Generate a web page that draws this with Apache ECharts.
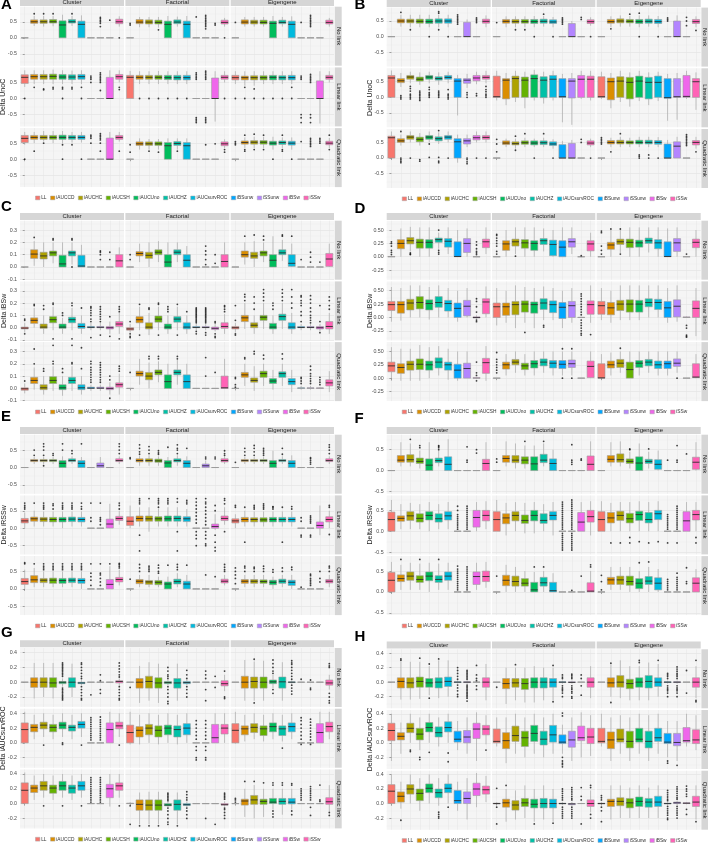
<!DOCTYPE html>
<html><head><meta charset="utf-8">
<script src="https://cdn.jsdelivr.net/npm/echarts@6/dist/echarts.min.js"></script>
<style>html,body{margin:0;padding:0;background:#fff}#c{width:708px;height:844px}</style>
</head><body><div id="c"></div>
<script>
// ---------- categories & labels ----------
const methods = ['LL','iAUCCD','iAUCHC','iAUCSH','iAUCUno','iAUCHZ','iAUCsurvROC','iBSunw','iSSunw','iBSw','iSSw'];
const methodColors = ['#F8766D','#DB8E00','#AEA200','#64B200','#00BD5C','#00C1A7','#00BADE','#00A6FF','#B385FF','#EF67EB','#FF63B6'];
const designs = ['Cluster','Factorial','Eigengene'];
const links = ['No link','Linear link','Quadratic link'];
const panelNames = ['A','B','C','D','E','F','G','H'];
const yTitles = {A:'Delta UnoC',B:'Delta UnoC',C:'Delta iBSw',D:'Delta iBSw',E:'Delta iRSSw',F:'Delta iRSSw',G:'Delta iAUCsurvROC',H:'Delta iAUCsurvROC'};
const yLimits = {A:[-0.87,0.97],B:[-0.96,0.93],C:[-0.103,0.376],D:[-0.43,0.675],E:[-0.75,0.94],F:[-0.555,0.86],G:[-0.335,0.462],H:[-0.36,0.452]};
const yBreaks = {A:[-0.5,0,0.5],B:[-0.5,0,0.5],C:[-0.1,0,0.1,0.2,0.3],D:[-0.25,0,0.25,0.5],E:[-0.5,0,0.5],F:[-0.5,0,0.5],G:[-0.2,0,0.2,0.4],H:[-0.2,0,0.2,0.4]};
const yDecimals = {A:1,B:1,C:1,D:2,E:1,F:1,G:1,H:1};

// ---------- data: 9 facets per panel (No link: Cluster, Factorial, Eigengene; Linear link: ...; Quadratic link: ...)
// each box: [lower whisker, Q1, median, Q3, upper whisker, ...outliers]
const A_boxes = [
 [[0,0,0,0,0],[0.37,0.45,0.5,0.56,0.68,0.75],[0.35,0.45,0.5,0.56,0.68,0.75],[0.36,0.46,0.5,0.57,0.68,0.75],[0,0,0.4,0.53,0.72],[0.37,0.46,0.5,0.57,0.68,0.75],[0,0,0.42,0.52,0.7],[0,0,0,0,0],[0,0,0,0,0,0.35,0.45,0.5,0.55,0.6,0.64],[0,0,0,0,0,0.55],[0.35,0.44,0.5,0.58,0.67,0]],
 [[0,0,0,0,0,0.4,0.45],[0.33,0.44,0.49,0.57,0.65],[0.33,0.43,0.49,0.56,0.65],[0.32,0.43,0.48,0.55,0.65,0.25],[0,0,0.42,0.52,0.68],[0.35,0.44,0.49,0.56,0.66],[0,0,0.42,0.52,0.68],[0,0,0,0,0,0.65],[0,0,0,0,0,0.28,0.35,0.4,0.45,0.5,0.55,0.6,0.65,0.7],[0,0,0,0,0,0.4,0.45],[0.35,0.43,0.48,0.55,0.62,0]],
 [[0,0,0,0,0,0.48],[0.35,0.43,0.49,0.56,0.65],[0.35,0.43,0.49,0.55,0.65],[0.35,0.43,0.48,0.55,0.65],[0,0,0.45,0.52,0.68],[0.35,0.44,0.48,0.55,0.65],[0,0,0.42,0.52,0.67],[0,0,0,0,0,0.48],[0,0,0,0,0,0.35,0.4,0.45,0.5,0.55,0.6,0.65,0.7],[0,0,0,0,0],[0.35,0.43,0.48,0.55,0.62]],
 [[0.36,0.47,0.66,0.74,0.88,0],[0.45,0.6,0.68,0.75,0.88,0.35],[0.45,0.6,0.68,0.75,0.88,0.3,0.27],[0.45,0.6,0.69,0.76,0.9,0.3,0.35],[0.45,0.6,0.67,0.75,0.88,0.3,0.35,0],[0.45,0.59,0.67,0.74,0.87,0.3,0.35],[0.45,0.6,0.68,0.75,0.88,0.35,0],[0,0,0,0,0,0.5,0.6,0.65,0.7],[0,0,0,0,0,0.25,0.5,0.55,0.6,0.65,0.7,0.75,0.8],[0,0,0,0.66,0.88],[0.5,0.6,0.68,0.75,0.88,0.35,0.28]],
 [[0,0,0.66,0.72,0.86],[0.45,0.6,0.66,0.72,0.85,0],[0.45,0.6,0.66,0.72,0.85,0],[0.45,0.6,0.66,0.72,0.86,0],[0.45,0.59,0.65,0.72,0.85,0],[0.45,0.58,0.65,0.72,0.85,0],[0.45,0.58,0.65,0.72,0.85,0],[0,0,0,0,0,0.6,0.65,0.7,0.75,0.8,-0.6,-0.65,-0.7,-0.75],[0,0,0,0,0,0.6,0.65,0.7,0.75,0.8,0.85,-0.6,-0.65,-0.7,-0.75],[-0.72,0,0,0.64,0.85],[0.5,0.6,0.66,0.72,0.85,0]],
 [[0.45,0.58,0.65,0.72,0.85,0],[0.4,0.58,0.65,0.7,0.85,0.35,0],[0.4,0.58,0.65,0.71,0.85,0.3,0],[0.45,0.58,0.65,0.71,0.85,0],[0.45,0.58,0.66,0.72,0.85,0],[0.45,0.58,0.65,0.71,0.85,0],[0.45,0.58,0.65,0.72,0.85,0.35,0],[0,0,0,0,0,0.6,0.65,0.7,-0.5,-0.6,-0.75],[0,0,0,0,0,0.5,0.55,0.6,0.65,0.7,0.75,-0.5,-0.6,-0.75],[-0.78,0,0,0.55,0.85],[0.5,0.6,0.66,0.72,0.85]],
 [[0.45,0.52,0.65,0.74,0.85,0],[0.5,0.62,0.68,0.74,0.85,0.25],[0.55,0.62,0.68,0.74,0.88,0.5],[0.5,0.62,0.68,0.74,0.88],[0.5,0.62,0.68,0.75,0.88,0.45,0],[0.52,0.62,0.68,0.74,0.85,0.45],[0.52,0.62,0.68,0.74,0.85,0],[0,0,0,0,0,0.5,0.65,0.7,0.75],[0,0,0,0,0,0.25,0.5,0.6,0.65,0.7,0.75,0.8],[0,0,0,0.66,0.85],[0.55,0.62,0.68,0.74,0.85,0.25]],
 [[0,0,0,0,0,0.45,0.22],[0.3,0.43,0.48,0.54,0.65],[0.3,0.43,0.48,0.54,0.63,0.25],[0.3,0.43,0.48,0.54,0.63,0.22],[0,0,0.42,0.52,0.65],[0.3,0.43,0.49,0.55,0.65,0.25],[0,0,0.42,0.52,0.65],[0,0,0,0,0],[0,0,0,0,0,0.45],[0,0,0,0,0,0.48],[0.35,0.42,0.48,0.54,0.62,0.22,0.3]],
 [[0,0,0,0,0,0.45,0.5,0.55],[0.35,0.47,0.52,0.57,0.68,0.75,0.3,0.25],[0.35,0.47,0.53,0.58,0.7,0.78,0.3],[0.35,0.47,0.53,0.58,0.7,0.75,0.3],[0.3,0.44,0.5,0.56,0.7,0],[0.35,0.46,0.52,0.57,0.68,0.75,0.3,0.25],[0.3,0.44,0.5,0.56,0.68,0],[0,0,0,0,0,0.55],[0,0,0,0,0,0.4,0.45,0.5,0.55,0.6,0.65],[0,0,0,0,0,0.5,0.55,0.6,0.65],[0.35,0.45,0.5,0.56,0.66,0.75,0.3]]
];
const B_boxes = [
 [[0,0,0,0,0],[0.32,0.44,0.5,0.56,0.7,0.78],[0.3,0.44,0.5,0.56,0.7,0.22],[0.3,0.43,0.49,0.56,0.7],[0.3,0.42,0.48,0.56,0.7,0],[0.3,0.43,0.5,0.57,0.7,0.75,0.8,0.22],[0.3,0.43,0.5,0.57,0.7,0],[0,0,0,0,0,0.4,0.45,0.5,0.55,0.6,0.65,0.7],[0,0,0,0.46,0.55],[0,0,0,0,0,0.45,0.5,0.55,0.6],[0.3,0.43,0.49,0.56,0.68]],
 [[0,0,0,0,0,0.45],[0.3,0.43,0.49,0.55,0.65],[0.3,0.43,0.48,0.55,0.65,0.22],[0.3,0.43,0.48,0.55,0.65,0.22],[0.3,0.42,0.48,0.55,0.66,0],[0.32,0.43,0.49,0.56,0.66,0.72],[0.3,0.42,0.47,0.54,0.63,0],[0,0,0,0,0,0.4,0.45,0.5,0.55,0.6],[0,0,0,0.42,0.5],[0,0,0,0,0,0.55,0.62],[0.35,0.42,0.48,0.54,0.62,0]],
 [[0,0,0,0,0],[0.3,0.43,0.48,0.55,0.65,0.25],[0.32,0.44,0.5,0.57,0.68],[0.32,0.44,0.49,0.55,0.66,0.72],[0.3,0.42,0.48,0.55,0.68,0.75,0],[0.32,0.43,0.49,0.56,0.68],[0.3,0.42,0.48,0.55,0.66,0],[0,0,0,0,0,0.5,0.55,0.6],[0,0,0,0.5,0.68],[0,0,0,0,0,0.35,0.5,0.62],[0.3,0.42,0.48,0.55,0.65,0.2]],
 [[0,0,0.62,0.7,0.86],[0.33,0.47,0.53,0.6,0.78,0.05,0,-0.05],[0.45,0.58,0.65,0.7,0.82,0.35,0.28,0.2,0.1,0.05,0,-0.05],[0.4,0.52,0.58,0.65,0.8,0.2,0.15,0.1,0.05,0,-0.05,-0.1],[0.45,0.58,0.65,0.7,0.82,0.32,0.25,0.15,0.1,0.05,0],[0.4,0.55,0.6,0.66,0.8,0.2,0.15,0.1,0.05,0],[0.45,0.58,0.64,0.7,0.82,0.25,0.1,0.05,0,-0.05],[-0.58,0,0.52,0.6,0.72],[0.3,0.45,0.55,0.6,0.75,0.15,0.08,0],[0.42,0.53,0.62,0.7,0.82,0.12,0.05],[0.45,0.58,0.64,0.7,0.85,0.35,0.25,0.18,0.1,0.05,0]],
 [[-0.1,0,0.02,0.68,0.85],[-0.25,-0.05,0.55,0.6,0.78],[-0.15,0,0.6,0.68,0.85],[-0.35,0,0.55,0.65,0.82],[-0.1,0,0.6,0.72,0.88],[-0.2,-0.01,0.55,0.66,0.82],[-0.1,0,0.58,0.7,0.85],[-0.8,0,0.02,0.6,0.75],[-0.88,-0.02,0.52,0.6,0.78],[-0.05,0,0.58,0.7,0.85],[-0.1,0,0.58,0.68,0.85]],
 [[-0.05,0,0.02,0.66,0.82],[-0.35,-0.08,0.5,0.62,0.78],[-0.15,0,0.52,0.66,0.85],[-0.3,-0.05,0.48,0.64,0.8],[-0.12,0,0.52,0.68,0.85],[-0.25,-0.05,0.48,0.64,0.8],[-0.12,0,0.48,0.68,0.82],[-0.75,-0.03,-0.01,0.6,0.75],[-0.72,0,0.02,0.6,0.78],[-0.05,0,0.03,0.7,0.85],[-0.4,0,0.5,0.6,0.8]],
 [[0,0,0.65,0.7,0.85],[0.4,0.5,0.55,0.62,0.75,0.85,0,-0.05,-0.1,-0.15],[0.5,0.6,0.67,0.72,0.85,0],[0.4,0.52,0.6,0.67,0.8,-0.05,-0.1],[0.5,0.6,0.67,0.72,0.85,0.45,0.02],[0.45,0.55,0.62,0.68,0.82,0.88,0.02,-0.1,-0.15],[0.5,0.6,0.67,0.72,0.85,0],[-0.15,0,0.52,0.62,0.75],[0.35,0.45,0.55,0.62,0.75,0,-0.05,-0.12,-0.18],[0.5,0.58,0.65,0.72,0.85,0],[0.5,0.6,0.66,0.72,0.85,0]],
 [[0,0,0,0,0,0.6,0.45,0.2],[0.35,0.43,0.48,0.55,0.62],[0.3,0.42,0.46,0.52,0.62,0.7,0.25],[0.35,0.44,0.49,0.55,0.65,0.78],[0.35,0.42,0.48,0.55,0.62,0],[0.35,0.43,0.49,0.55,0.65,0.78],[0.3,0.4,0.45,0.52,0.6,0],[0,0,0,0.43,0.55],[0,0,0,0.47,0.58],[0,0,0,0,0,0.6,0.5],[0.35,0.42,0.48,0.55,0.62,0]],
 [[0,0,0,0,0,0.45,0.5,0.55,0.6,0.65],[0.35,0.45,0.5,0.56,0.65,0.2],[0.35,0.45,0.5,0.57,0.68,0.78],[0.35,0.45,0.5,0.55,0.65],[0.35,0.45,0.5,0.57,0.68,0.1,0.05,0],[0.35,0.45,0.5,0.57,0.68,0.1,0],[0.35,0.44,0.5,0.56,0.67,0],[0,0,0,0.45,0.58],[0,0,0.38,0.52,0.68],[0,0,0,0,0,0.4,0.45,0.5,0.55,0.6,0.65,0.7,0.75],[0.3,0.42,0.5,0.56,0.68,0.2]]
];
const C_boxes = [
 [[0,0,0,0,0],[0.01,0.07,0.105,0.14,0.21,0.24],[0,0.065,0.09,0.12,0.2],[0.03,0.09,0.115,0.13,0.2,0.23,0.22],[0,0,0.025,0.095,0.2],[0.02,0.09,0.115,0.13,0.2,0.23,0.22,0],[0,0,0.008,0.095,0.18],[0,0,0,0,0],[0,0,0,0,0,0.06,0.1,0.12,0.13],[0,0,0,0,0,0.06,0.12],[0,0,0.05,0.1,0.16]],
 [[0,0,0,0,0,0.1,0.06],[0.04,0.09,0.11,0.125,0.19],[0,0.07,0.095,0.12,0.2],[0.04,0.1,0.12,0.14,0.21],[0,0,0.04,0.1,0.2],[0.04,0.1,0.12,0.14,0.2],[0,0,0.055,0.1,0.17],[0,0,0,0,0],[0,0,0,0,0,0.02,0.06,0.1,0.13,0.17],[0,0,0,0,0,0.03,0.1],[0,0,0.045,0.1,0.2]],
 [[0,0,0,0,0],[0.02,0.08,0.1,0.13,0.2,0.25],[0,0.07,0.09,0.12,0.21,0.26],[0.04,0.09,0.115,0.13,0.2,0.25,0.22],[0,0,0.055,0.1,0.25],[0.05,0.1,0.115,0.14,0.22,0.26,0.25],[0,0.005,0.03,0.1,0.19,0.25],[0,0,0,0,0,0.06],[0,0,0,0,0,0.04,0.08,0.12],[0,0,0,0,0,0.04],[0,0.005,0.065,0.11,0.19]],
 [[-0.04,-0.01,-0.003,0.005,0.04,0.06,0.07,-0.05],[0,0.035,0.06,0.08,0.16,0.18,0.19],[-0.05,-0.005,0.005,0.03,0.1,0.15,0.18],[-0.02,0.04,0.065,0.09,0.17,0.19,0.2,-0.09],[-0.05,-0.005,0.005,0.03,0.08,0.1,0.12],[-0.02,0.04,0.065,0.085,0.16,0.18,0.2,-0.09],[-0.05,-0.005,0.01,0.035,0.1,0.16],[-0.02,0,0.003,0.01,0.04,0.05,0.07,0.1,0.12,0.14,0.16,0.17,-0.08],[-0.02,0,0.003,0.01,0.04,0.05,0.07,0.09,0.11,0.13,0.15,0.17,-0.06],[-0.05,-0.01,0,0.01,0.05,0.09,-0.07],[-0.05,0.01,0.03,0.05,0.12,0.13,0.15,0.17,-0.09]],
 [[-0.04,-0.02,-0.01,0,0.03,-0.05,-0.07,-0.08,0.05],[-0.02,0.04,0.065,0.09,0.17,-0.06,0.19],[-0.06,-0.01,0.005,0.04,0.12,0.15,0.16],[-0.02,0.045,0.07,0.095,0.17,-0.06,0.19,0.2],[-0.05,-0.01,0.005,0.03,0.1,0.13,0.15,0.17],[-0.02,0.045,0.07,0.09,0.17,-0.06,0.19],[-0.05,-0.01,0.005,0.04,0.1,0.13],[-0.02,0,0.002,0.01,0.03,0.04,0.05,0.06,0.07,0.08,0.09,0.1,0.11,0.12,0.13,0.14,0.15,0.16,-0.03,-0.05],[-0.02,0,0.002,0.01,0.03,0.04,0.05,0.06,0.07,0.08,0.09,0.1,0.11,0.12,0.13,0.14,0.15,0.16,-0.04,-0.06],[-0.03,-0.015,-0.005,0.005,0.03,0.04,0.05,-0.05,-0.07,-0.08],[-0.05,-0.005,0.01,0.04,0.11,0.13,0.15,0.17,0.18]],
 [[-0.04,-0.01,0,0.01,0.04,0.06,0.18,-0.05,-0.06],[-0.01,0.05,0.08,0.1,0.2,0.22,0.25,0.27],[-0.05,0,0.02,0.04,0.1,0.15,0.2,0.25],[-0.01,0.06,0.085,0.1,0.2,0.22,0.25,0.28,0.31],[-0.05,-0.01,0.005,0.035,0.1,0.15,0.18,0.2],[-0.01,0.06,0.09,0.11,0.2,0.22,0.25,0.28,0.31],[-0.05,-0.01,0.005,0.04,0.12,0.16,0.2,0.25,0.31],[-0.02,0,0.002,0.01,0.03,0.05,0.1,0.13,0.18,0.2,0.22,0.25,0.26],[-0.02,0,0.002,0.01,0.03,0.04,0.06,0.08,0.1,0.13,0.16,0.2,0.23,0.26],[-0.03,-0.01,0,0.01,0.03,0.05,0.18,-0.04],[-0.05,-0.01,0.01,0.05,0.12,0.15,0.18,0.22,0.25]],
 [[-0.04,-0.015,-0.003,0.005,0.04,0.06],[-0.01,0.04,0.065,0.09,0.17,0.2,0.32],[-0.05,-0.01,0.005,0.03,0.1,0.14,0.16],[-0.02,0.04,0.065,0.095,0.18,0.2,0.22,0.35],[-0.06,-0.01,0.005,0.03,0.1,0.13,0.16],[-0.02,0.04,0.065,0.09,0.18,0.2,0.21,0.35],[-0.05,-0.01,0.005,0.03,0.1,0.16,0.33],[-0.02,0,0.002,0.01,0.03,0.05,0.07,0.09,0.11,0.13,0.15,0.17,0.2,0.22],[-0.02,0,0.002,0.01,0.03,0.05,0.07,0.09,0.11,0.13,0.15,0.17,0.19,0.21],[-0.05,-0.01,0,0.01,0.05,0.07,0.1,-0.08],[-0.05,0.01,0.03,0.045,0.12,0.14,0.16,0.18]],
 [[0,0,0,0,0,0.13],[0.03,0.1,0.12,0.14,0.24],[0,0.07,0.1,0.13,0.21,0.24,0.26],[0.05,0.11,0.13,0.15,0.22,0.24,0.26],[0,0,0.055,0.11,0.2],[0.03,0.11,0.13,0.15,0.23,0.26,0.24],[0,0,0.055,0.11,0.2],[0,0,0,0,0],[0,0,0,0,0,0.1,0.25],[0,0,0,0,0,0.13],[0,0,0.005,0.1,0.24]],
 [[0,0,0,0,0,0.01,0.03,0.08,0.09],[0.02,0.09,0.11,0.13,0.2,0.24,0.25],[-0.02,0.05,0.065,0.085,0.18,0.28,0.3],[0.02,0.09,0.12,0.14,0.2,0.24,0.27],[-0.01,0.04,0.06,0.08,0.15],[0.02,0.09,0.12,0.135,0.2,0.24,0.28],[-0.03,0.03,0.055,0.08,0.15],[-0.01,0,0.002,0.005,0.02,0.04,0.06,0.08,0.09],[-0.01,0,0.002,0.005,0.02,0.04,0.06,0.08,0.1,0.12,0.15,0.18],[0,0,0.002,0.004,0.01,0.03,0.05,0.07,0.09],[-0.03,0.02,0.045,0.07,0.14]]
];
const D_boxes = [
 [[0,0,0,0.005,0.01,0.04,0.08,0.12,0.2,0.25,0.28],[0,0.15,0.25,0.32,0.53],[0.1,0.24,0.3,0.36,0.56,0.07,0.05,0.04],[0,0.16,0.27,0.33,0.55],[0,0.16,0.27,0.32,0.55],[0.15,0.27,0.32,0.35,0.45,0.5,0.12,0.08,0.05],[0.05,0.18,0.29,0.34,0.55],[0,0,0.005,0.28,0.5],[0,0.08,0.25,0.34,0.53],[0,0,0,0,0,0.04,0.07,0.1,0.15,0.22,0.28],[0.05,0.17,0.28,0.33,0.55]],
 [[0,0,0,0,0,0.05,0.1,0.2,0.25,0.3,0.35,0.4,0.42],[0,0.12,0.24,0.3,0.5],[0.05,0.2,0.28,0.33,0.55,0.01],[0,0.16,0.26,0.32,0.55],[0,0.12,0.25,0.3,0.55],[0.1,0.23,0.3,0.34,0.53],[0,0.02,0.23,0.31,0.5],[0,0,0.18,0.3,0.55],[0.05,0.18,0.28,0.34,0.55],[0,0,0,0,0,0.02],[0,0.11,0.24,0.3,0.45]],
 [[0,0,0,0,0,0.48,0.45,0.2,0.12,0.05],[0,0.14,0.22,0.27,0.5,0.52],[0.07,0.23,0.28,0.33,0.5,0.52,0.05],[0,0.17,0.27,0.33,0.55],[0,0.18,0.26,0.31,0.55],[0.08,0.25,0.3,0.35,0.55],[0,0.15,0.26,0.32,0.55],[0,0,0.005,0.28,0.53],[0,0.1,0.26,0.34,0.55],[0,0,0,0,0,0.05],[0,0.17,0.27,0.33,0.5]],
 [[-0.08,0.13,0.24,0.3,0.57],[-0.06,0.08,0.24,0.3,0.55],[0,0.14,0.27,0.34,0.6],[0,0.16,0.28,0.39,0.6],[-0.04,0.14,0.26,0.33,0.57],[0,0.19,0.28,0.39,0.6],[0,0.12,0.26,0.32,0.55],[-0.08,0,0.17,0.27,0.5],[0,0.03,0.21,0.32,0.55],[-0.03,-0.01,0,0.01,0.04,0.1,0.2,0.3,0.35,-0.05,-0.08],[0,0.07,0.29,0.35,0.58]],
 [[-0.15,0,0.2,0.27,0.55],[-0.1,0.04,0.2,0.27,0.5],[-0.2,0.05,0.24,0.3,0.6],[-0.1,0.1,0.25,0.31,0.57,-0.28],[-0.2,0.08,0.24,0.29,0.55],[-0.05,0.15,0.27,0.35,0.58,-0.15,-0.18],[-0.05,0.09,0.24,0.31,0.55],[-0.2,-0.02,0.19,0.28,0.5],[-0.1,0,0.22,0.3,0.55],[-0.01,0,0,0,0.01,0.44,0.4,0.35,0.3,0.25,0.2,0.15,0.1,0.05,-0.05,-0.1,-0.15,-0.2,-0.25,-0.3,-0.33],[-0.1,0.06,0.24,0.31,0.6,-0.32]],
 [[-0.05,0.06,0.22,0.3,0.55],[-0.1,0.05,0.18,0.28,0.5],[-0.05,0.13,0.25,0.32,0.6],[-0.05,0.1,0.25,0.33,0.6],[-0.05,0.1,0.25,0.32,0.6],[0,0.2,0.28,0.35,0.6],[0,0.15,0.28,0.34,0.6],[-0.1,0,0.18,0.3,0.55],[-0.08,0.01,0.21,0.33,0.6],[0,0,0,0.01,0.02,-0.15,-0.2,-0.33,-0.35,-0.37],[-0.35,0,0.17,0.31,0.55]],
 [[-0.05,0.12,0.23,0.3,0.58],[-0.05,0.09,0.2,0.27,0.55],[-0.05,0.15,0.26,0.32,0.55],[-0.05,0.16,0.26,0.36,0.62],[0,0.15,0.25,0.32,0.58],[0.05,0.19,0.3,0.38,0.6],[-0.03,0.15,0.25,0.3,0.55],[-0.05,0,0.15,0.26,0.5],[0,0,0.18,0.28,0.5],[-0.02,0,0,0.01,0.02,0.05,0.1,0.3,-0.05],[-0.05,0.09,0.29,0.37,0.6]],
 [[0,0,0,0,0,0.1,0.15,0.2,0.25,0.3,0.35,0.48],[0.05,0.17,0.25,0.3,0.45],[0.1,0.25,0.3,0.35,0.5],[0.05,0.16,0.23,0.28,0.45],[0.05,0.19,0.27,0.33,0.5],[0.1,0.23,0.3,0.36,0.5],[0.05,0.19,0.28,0.33,0.5],[0.05,0.18,0.26,0.33,0.5,0.55,0],[0.05,0.2,0.27,0.34,0.5,0.55,0],[0,0,0,0,0],[0,0.01,0.22,0.32,0.5]],
 [[0,0,0.005,0.27,0.45],[0.05,0.19,0.25,0.32,0.48],[0.1,0.2,0.28,0.35,0.5,0.56],[0,0,0.16,0.3,0.5],[0.05,0.2,0.28,0.33,0.5],[0.1,0.23,0.3,0.35,0.5],[0.05,0.18,0.25,0.32,0.5],[0.05,0.18,0.27,0.32,0.5],[0.1,0.22,0.28,0.36,0.5,0],[0,0,0,0,0],[0,0.01,0.02,0.27,0.45]]
];
const E_boxes = [
 [[0,0,0,0,0],[0.1,0.17,0.2,0.23,0.3,0.35,0.5],[0.1,0.17,0.2,0.23,0.3,0.35,0.5,0.6,0.68,0.05],[0.1,0.17,0.2,0.23,0.3,0.35,0.4],[0,0,0.12,0.2,0.32,0.5,0.68],[0.1,0.17,0.2,0.25,0.32,0.4,0.48],[0,0,0.12,0.2,0.3,0.68],[0,0,0,0,0],[0,0,0.05,0.13,0.3],[0,0,0,0,0],[0.1,0.17,0.2,0.25,0.32,0.4,0.5,0.6,0.68]],
 [[0,0,0,0,0,0.25,0.28],[0.05,0.16,0.2,0.25,0.33,0.38,0.45,0.55,0.65],[0.05,0.16,0.2,0.25,0.35,0.4,0.5,0.6],[0.05,0.15,0.19,0.24,0.32,0.38,0.42,0.48],[0,0,0.13,0.2,0.3,0.58],[0.05,0.16,0.2,0.25,0.35,0.4,0.5,0.55,0.65],[0,0,0.12,0.2,0.32,0.55],[0,0,0,0,0],[0,0,0.05,0.1,0.2,0.25,0.3],[0,0,0,0,0,0.25,0.3],[0.1,0.16,0.2,0.25,0.32,0.35,0.4,0.48]],
 [[0,0,0,0,0,0.15],[0.1,0.17,0.2,0.23,0.3,0.35,0.45,0.55],[0.1,0.17,0.2,0.23,0.3,0.35,0.45,0.55,0.63],[0.1,0.17,0.2,0.23,0.3,0.35,0.4,0.45,0.5,0.55],[0,0,0.12,0.2,0.48],[0.1,0.17,0.2,0.23,0.32,0.38,0.55],[0,0,0.12,0.2,0.35],[0,0,0,0,0],[0,0,0,0,0,0.1,0.15,0.2,0.25,0.28],[0,0,0,0,0],[0.1,0.17,0.2,0.25,0.32,0.4,0.5,0.58,0.65]],
 [[0,0.15,0.21,0.28,0.45,0.55,0.6,0.65,0.72],[0.05,0.2,0.27,0.32,0.5,0.72],[0.05,0.19,0.26,0.31,0.48,0.55,0.6,0.65,0.72],[0.05,0.18,0.25,0.31,0.48,0.55,0.65,0.7],[0,0.18,0.25,0.31,0.48,0.55,0.6,0.65,0.72],[0.05,0.19,0.26,0.32,0.48,0.55,0.6,0.65,0.72],[0.05,0.18,0.25,0.31,0.48,0.55,0.62,0.72],[0,0,0,0,0,0.72,0.3,0.2],[0,0,0,0,0,0.72,0.3,0.25,0.2,0.1],[0,0.005,0.12,0.26,0.7],[0.1,0.22,0.28,0.34,0.5,0.55,0.65,0.72]],
 [[0,0.08,0.2,0.33,0.65],[0.05,0.2,0.28,0.35,0.6,0.7,0.75,0.8,0.85,-0.2,-0.65],[-0.1,0.2,0.27,0.35,0.6,0.85],[0.05,0.2,0.27,0.33,0.55,0.6,0.7,0.75,0.8,0.85],[0.05,0.2,0.27,0.35,0.6,0.7,0.75,0.8,0.85],[0.05,0.2,0.28,0.35,0.6,0.75,0.85,-0.1,-0.65],[0.05,0.19,0.27,0.33,0.55,0.7,0.75,0.8],[0,0,0,0,0,0.85,0.75,0.65,0.55,0.45,0.35,0.25,0.15,-0.1,-0.2,-0.3,-0.5],[0,0,0,0,0,0.85,0.75,0.7,0.6,0.5,0.4,0.3,0.2,0.1,-0.1,-0.2,-0.3,-0.45,-0.5],[-0.05,0,0.05,0.12,0.4,0.5,0.65,-0.2,-0.4,-0.55,-0.65],[0.1,0.22,0.28,0.35,0.6,0.7,0.8,0.85,-0.1]],
 [[0,0.15,0.21,0.27,0.4,0.6,0.65],[0.05,0.18,0.25,0.31,0.5,0.6,-0.4],[0.05,0.18,0.25,0.3,0.48,0.55,0.6,0.65],[0.05,0.18,0.24,0.3,0.48,0.55,0.6,0.65,0.7],[0.05,0.18,0.25,0.31,0.48,0.55,0.6,0.62],[0.05,0.18,0.25,0.31,0.48,0.6,-0.4],[0.05,0.18,0.25,0.31,0.48,0.55,0.62],[0,0,0,0,0,0.3,0.2,-0.2,-0.25],[0,0,0,0,0,0.35,0.3,0.25,0.2,0.15,-0.2,-0.25],[-0.2,0,0.08,0.18,0.65],[0,0.18,0.25,0.33,0.5,0.6,0.65,-0.18]],
 [[0,0.13,0.21,0.3,0.55,0.72,0.75],[0.05,0.18,0.26,0.38,0.6,0.72],[0.05,0.18,0.25,0.3,0.5,0.55,0.6,0.65,0.72],[0.05,0.16,0.25,0.31,0.5,0.55,0.6,0.65,0.72],[0.05,0.16,0.24,0.3,0.5,0.55,0.6,0.65,0.72],[0.05,0.18,0.25,0.31,0.5,0.55,0.6,0.65,0.72],[0,0.16,0.24,0.3,0.5,0.55,0.6,0.65,0.72],[0,0,0,0,0,0.72,0.45,0.35,0.25,0.1],[0,0,0,0,0,0.72,0.45,0.4,0.3,0.2,0.1],[0,0,0.13,0.27,0.65,0.72],[0.1,0.2,0.27,0.33,0.55,0.6,0.65,0.7,0.73]],
 [[0,0,0,0,0,0.28],[0.05,0.15,0.22,0.27,0.4,0.5,0.6,0.7],[0.05,0.13,0.2,0.24,0.4,0.5,0.55,0.6,0.65],[0.05,0.12,0.19,0.24,0.35,0.45,0.5,0.6,0.68],[0,0,0.14,0.2,0.35,0.68],[0.05,0.14,0.21,0.28,0.45,0.55,0.62,0.7],[0,0,0.14,0.22,0.4,0.68],[0,0,0,0,0],[0,0,0,0,0,0.4],[0,0,0,0,0,0.35],[0.1,0.17,0.22,0.28,0.4,0.5,0.55,0.62,0.7]],
 [[0,0,0,0,0,0.15,0.3,0.4,0.5,0.6],[0.05,0.16,0.22,0.27,0.4,0.5,0.6,0.65],[0.05,0.16,0.22,0.27,0.4,0.5,0.58,0.62],[0.05,0.16,0.21,0.26,0.4,0.5,0.58,0.65],[0,0.12,0.19,0.25,0.35,0.48,0.55],[0.05,0.16,0.22,0.28,0.4,0.5,0.6],[0,0.1,0.19,0.25,0.4,0.55,0.62],[0,0,0,0,0,0.05],[0,0,0,0,0,0.1,0.15,0.2,0.25,0.3,0.38,0.42],[0,0,0,0,0,0.2,0.3,0.5],[0.05,0.17,0.22,0.27,0.4,0.5,0.6,0.65]]
];
const F_boxes = [
 [[0,0,0,0,0],[0.1,0.2,0.25,0.36,0.68],[0.1,0.2,0.26,0.38,0.65,0.75],[0.05,0.17,0.22,0.3,0.48,0.55,0.6],[0,0,0.13,0.28,0.68],[0.1,0.19,0.24,0.3,0.48,0.5,0.55,0.58,0.6],[0,0,0.15,0.33,0.75],[0,0,0,0,0],[0,0,0,0,0,0.2,0.25,0.57],[0,0,0,0,0,0.42,0.5],[0,0,0.17,0.27,0.68]],
 [[0,0,0,0,0,0.2,0.28],[0.1,0.2,0.29,0.36,0.7],[0.05,0.19,0.25,0.36,0.65],[0.05,0.16,0.25,0.33,0.6,0.7],[0,0,0.16,0.33,0.6],[0.1,0.19,0.25,0.39,0.65,0.7],[0,0,0.17,0.28,0.5],[0,0,0,0,0],[0,0,0,0,0,0.15,0.2,0.25,0.62],[0,0,0,0,0,0.25,0.28],[0,0,0.15,0.35,0.7]],
 [[0,0,0,0,0],[0.1,0.2,0.27,0.36,0.68],[0.1,0.2,0.26,0.4,0.7],[0.05,0.17,0.22,0.28,0.45,0.5,0.52],[0,0,0.18,0.33,0.65],[0.05,0.17,0.22,0.27,0.45,0.52],[0,0.03,0.15,0.26,0.48],[0,0,0,0,0,0.25],[0,0,0,0,0,0.2,0.25,0.6],[0,0,0,0,0,0.4],[0,0.03,0.2,0.32,0.68]],
 [[0,0,0.28,0.46,0.75],[0.05,0.24,0.31,0.37,0.65],[0.05,0.26,0.37,0.47,0.68],[0.05,0.22,0.31,0.42,0.65],[0,0.27,0.38,0.47,0.7],[0.05,0.22,0.3,0.42,0.65],[0.05,0.27,0.37,0.47,0.7],[0,0,0,0,0,0.05,0.1,0.15,0.2,0.25,0.3,0.35,0.4,0.5,0.6],[0,0,0,0,0,0.05,0.1,0.15,0.2,0.25,0.3,0.35,0.4,0.45,0.5,0.55,0.6],[0,0.1,0.33,0.5,0.7],[0.05,0.25,0.38,0.5,0.72]],
 [[0,0,0.28,0.47,0.75],[-0.1,0.18,0.32,0.42,0.68],[0,0.25,0.38,0.47,0.7],[-0.05,0.19,0.26,0.39,0.68],[-0.05,0.25,0.38,0.5,0.7],[0,0.19,0.26,0.42,0.65],[-0.1,0.27,0.38,0.47,0.7],[0,0,0,0,0,0.7,0.65,0.6,0.55,0.5,0.45,0.4,0.35,0.3,0.25,0.2,0.15,0.1,0.05,-0.05,-0.1,-0.15,-0.2,-0.25,-0.3,-0.35,-0.4,-0.45],[0,0,0,0,0,0.75,0.7,0.65,0.6,0.55,0.5,0.45,0.4,0.35,0.3,0.25,0.2,0.15,0.1,0.05,-0.05,-0.1,-0.15,-0.2,-0.25,-0.3,-0.35,-0.4,-0.45],[0,0,0.22,0.45,0.7],[-0.1,0.22,0.35,0.5,0.72]],
 [[0,0,0.28,0.47,0.72],[0,0.2,0.32,0.45,0.68,-0.28],[0,0.26,0.38,0.48,0.7,-0.28],[0,0.2,0.3,0.43,0.7,-0.15,-0.28],[0,0.26,0.4,0.48,0.72,-0.25],[0,0.2,0.28,0.45,0.7,-0.28],[0,0.28,0.42,0.5,0.72,-0.25],[0,0,0,0,0,0.05,0.1,0.15,0.2,0.25,0.3,0.35,0.4,-0.28],[0,0,0,0,0,0.05,0.1,0.15,0.2,0.25,0.3,0.35,0.4,0.45,0.5,0.55,0.6,-0.28],[0,0,0.25,0.47,0.7],[0,0.27,0.4,0.5,0.7,-0.15,-0.28]],
 [[0,0,0.28,0.47,0.72],[0.05,0.25,0.32,0.41,0.65,0.78],[0.05,0.28,0.38,0.48,0.7],[0.05,0.23,0.3,0.39,0.68,0.78],[0,0.27,0.38,0.48,0.7],[0.05,0.23,0.3,0.39,0.68,0.78],[0.05,0.28,0.38,0.48,0.7],[0,0,0,0,0,0.05,0.1,0.15,0.2,0.25,0.3,0.35,0.4,0.45,0.5,0.55,0.62],[0,0,0,0,0,0.05,0.1,0.15,0.2,0.25,0.3,0.35,0.4,0.45,0.5,0.55,0.6],[0.05,0.18,0.37,0.48,0.7],[0.1,0.25,0.37,0.5,0.72]],
 [[0,0,0,0,0,0.38],[0,0.15,0.28,0.4,0.65],[0,0.14,0.25,0.38,0.6],[0,0.14,0.21,0.32,0.5],[0,0,0.05,0.23,0.48,0.6],[0,0.14,0.22,0.35,0.5,0.6],[0,0,0.03,0.23,0.45],[0,0,0,0,0],[0,0,0,0,0,0.04],[0,0,0,0,0,0.38],[0,0,0.02,0.22,0.5,0.6,0.65]],
 [[0,0,0,0,0,0.05,0.25,0.4],[0.05,0.18,0.29,0.35,0.6],[0.05,0.18,0.29,0.38,0.6],[0,0.16,0.25,0.38,0.6],[0,0.08,0.21,0.32,0.5,0.7],[0,0.18,0.26,0.37,0.6,0.72],[0,0.05,0.21,0.34,0.55],[0,0,0,0,0,0.05,0.1,0.15,0.2,0.25,0.3],[0,0,0,0,0,0.05,0.1,0.15,0.2,0.25,0.3,0.35,0.45],[0,0,0,0,0,0.2,0.25,0.58],[0,0,0.21,0.34,0.55]]
];
const G_boxes = [
 [[0,0,0,0,0],[-0.22,-0.07,0,0.06,0.26],[-0.2,-0.07,0,0.06,0.26],[-0.22,-0.07,-0.01,0.06,0.26],[-0.06,-0.02,0,0.01,0.05,0.26,0.24,0.22,0.2,0.18,0.16,0.14,0.12,0.1,0.08,-0.08,-0.1,-0.12,-0.14,-0.16,-0.18,-0.2,-0.22,-0.24],[-0.2,-0.07,0,0.06,0.25],[-0.04,-0.02,-0.01,0,0.03,0.26,0.24,0.2,0.16,0.12,0.08,0.05,-0.06,-0.1,-0.14,-0.18,-0.22,-0.24],[0,0,0,0,0,-0.17],[0,0,0,0,0,0.1,0.02,-0.1,-0.15],[0,0,0,0,0],[-0.05,-0.01,0.01,0.02,0.05,0.26,0.22,0.18,0.14,0.1,0.07,-0.06,-0.1,-0.14,-0.18,-0.22,-0.24]],
 [[0,0,0,0,0,-0.07],[-0.28,-0.08,0,0.05,0.22],[-0.25,-0.08,0.01,0.08,0.27],[-0.28,-0.08,-0.01,0.06,0.25],[-0.04,-0.02,-0.005,0.01,0.03,0.2,0.15,0.1,0.08,0.05,-0.06,-0.1,-0.15,-0.2,-0.26,-0.29],[-0.25,-0.08,-0.01,0.05,0.25],[-0.04,-0.02,-0.005,0.01,0.03,0.16,0.1,0.05,-0.06,-0.1,-0.15,-0.2],[0,0,0,0,0],[0,0,0,0,0,0.15,0.1,0.05,-0.1,-0.25],[0,0,0,0,0,0.08,-0.07],[-0.12,-0.05,-0.02,0.02,0.1,0.15,-0.2,-0.22]],
 [[0,0,0,0,0],[-0.25,-0.08,0,0.08,0.3],[-0.25,-0.08,0.01,0.07,0.28,0.31,-0.28],[-0.25,-0.08,0,0.07,0.29],[-0.08,-0.02,0.005,0.03,0.1,0.3,0.25,0.2,0.15,0.12,-0.1,-0.15],[-0.25,-0.08,0.005,0.07,0.27],[-0.02,-0.005,0,0.005,0.02,0.29,0.26,0.24,0.2,0.16,0.12,0.08,0.04,-0.04,-0.08,-0.12,-0.16],[0,0,0,0,0,0.04],[0,0,0,0,0,0.03,-0.08,-0.1],[0,0,0,0,0],[-0.1,-0.04,-0.01,0.03,0.1,0.25,0.22,0.2,-0.15,-0.2,-0.25,-0.28]],
 [[0,0,0.18,0.27,0.42],[0.05,0.15,0.21,0.25,0.38],[0.08,0.19,0.24,0.28,0.4,-0.03],[0.05,0.15,0.21,0.25,0.38],[0.08,0.19,0.24,0.28,0.4,0,-0.02],[0.05,0.16,0.21,0.24,0.38],[0.08,0.2,0.25,0.29,0.4,-0.03],[0,0,0,0,0,0.04,0.07,0.1,0.13,0.16,0.19,0.22,0.25,0.28,0.31,0.34],[0,0,0,0,0,0.04,0.07,0.1,0.13,0.16,0.19,0.22,0.25,0.28,0.31,0.35],[0,0,0.18,0.27,0.42],[0.08,0.19,0.23,0.28,0.4,-0.03]],
 [[-0.02,0,0.14,0.24,0.42],[-0.02,0.08,0.17,0.22,0.38],[0,0.11,0.2,0.25,0.4],[-0.02,0.08,0.17,0.23,0.38],[0,0.11,0.2,0.24,0.4],[-0.02,0.08,0.18,0.23,0.38],[0,0.11,0.2,0.26,0.4],[0,0,0,0,0,0.3,0.25,0.2,0.15,0.1,0.05,-0.05,-0.1,-0.2,-0.23],[0,0,0,0,0,0.3,0.25,0.2,0.15,0.1,0.05,-0.05,-0.1,-0.2,-0.23],[0,0,0.07,0.25,0.4],[0,0.12,0.2,0.25,0.4]],
 [[-0.01,0,0.17,0.26,0.42],[0.02,0.11,0.19,0.23,0.38],[0.05,0.14,0.21,0.26,0.4],[0.02,0.1,0.19,0.23,0.38],[0.05,0.15,0.22,0.27,0.4],[0.02,0.1,0.19,0.23,0.38,-0.07],[0.05,0.15,0.22,0.27,0.4],[0,0,0,0,0,0.34,0.3,0.25,0.2,0.15,0.1,0.05,-0.02],[0,0,0,0,0,0.32,0.28,0.24,0.2,0.16,0.12,0.08,0.04,-0.02],[0,0,0.14,0.26,0.42],[0.05,0.15,0.22,0.28,0.42]],
 [[0,0,0.18,0.28,0.42],[0.05,0.15,0.21,0.25,0.38],[0.08,0.18,0.24,0.3,0.4,-0.03],[0.05,0.14,0.21,0.25,0.38],[0.08,0.18,0.24,0.3,0.4,-0.03],[0.05,0.14,0.21,0.25,0.38],[0.08,0.18,0.24,0.3,0.4,-0.03],[0,0,0,0,0,0.02,0.05,0.08,0.11,0.14,0.17,0.2,0.23,0.26,0.29,0.32,0.35],[0,0,0,0,0,0.02,0.05,0.08,0.11,0.14,0.17,0.2,0.23,0.26,0.29,0.32,0.35],[-0.04,0.08,0.2,0.26,0.4],[0.08,0.18,0.24,0.28,0.4,-0.03]],
 [[-0.02,0,0.002,0.005,0.02,-0.03,-0.28],[-0.28,-0.09,-0.01,0.05,0.15,-0.3],[-0.28,-0.09,-0.02,0.05,0.16,-0.3],[-0.28,-0.09,-0.02,0.05,0.16,-0.3],[-0.05,-0.03,-0.02,0,0.03,0.14,0.12,0.1,0.08,0.06,0.04,-0.06,-0.1,-0.15,-0.2,-0.25,-0.28],[-0.28,-0.09,-0.01,0.05,0.15,-0.3],[-0.05,-0.025,-0.015,0,0.03,0.16,0.12,0.08,0.05,-0.06,-0.1,-0.15,-0.2],[0,0,0,0,0],[0,0,0,0,0,-0.2],[0,0,0,0,0,-0.28],[-0.04,-0.02,-0.015,0,0.03,0.14,0.12,0.1,0.08,0.06,-0.06,-0.08,-0.12,-0.16,-0.2]],
 [[0,0,0,0,0,0.02,0.05,0.07],[-0.18,-0.02,0.035,0.06,0.2,0.3],[-0.2,-0.01,0.05,0.11,0.25,0.3],[-0.18,-0.01,0.03,0.06,0.2,0.28],[-0.08,0,0.02,0.07,0.2,0.28,0.25,-0.1,-0.14,-0.18],[-0.15,-0.01,0.03,0.07,0.2,0.28,0.25],[-0.08,-0.005,0.02,0.07,0.2,0.27,0.25,-0.1,-0.15],[0,0,0,0,0,0.2,0.17,0.14,0.11,0.08,0.05],[0,0,0,0,0,0.23,0.2,0.17,0.14,0.11,0.08,0.05,-0.05,-0.16],[0,0,0,0,0,0.25,0.05,0.03],[-0.1,-0.01,0.025,0.08,0.25,-0.12,-0.16]]
];
const H_boxes = [
 [[0,0,0,0,0],[-0.24,-0.08,0.01,0.06,0.28,0.32,0.3],[-0.24,-0.08,-0.01,0.06,0.28],[-0.23,-0.07,0.01,0.07,0.28,0.33],[-0.18,-0.07,-0.01,0.05,0.22,0.25,-0.22],[-0.22,-0.08,0,0.06,0.3,0.32],[-0.2,-0.06,0.01,0.07,0.3],[-0.02,-0.005,0,0.005,0.02,0.2,0.16,0.12,0.08,0.04,-0.04,-0.08,-0.12,-0.17,-0.2],[-0.02,-0.005,0,0.005,0.02,0.16,0.14,0.12,0.1,0.08,0.06,0.04,-0.04,-0.06,-0.08,-0.1,-0.12,-0.14,-0.16,-0.18,-0.2,-0.22,-0.26],[0,0,0,0,0,0.23,0.1,0.05,0.02,-0.05,-0.1],[-0.25,-0.07,0,0.06,0.25]],
 [[0,0,0,0,0,-0.07],[-0.3,-0.09,-0.02,0.05,0.2],[-0.25,-0.07,-0.01,0.05,0.2,0.24],[-0.28,-0.1,-0.02,0.05,0.2],[-0.28,-0.08,0,0.06,0.22],[-0.25,-0.08,0,0.06,0.2],[-0.25,-0.07,0,0.05,0.2,0.23,-0.27],[-0.02,-0.005,0,0.005,0.02,0.1,0.07,0.05,-0.05,-0.08,-0.1,-0.12,-0.15,-0.2],[-0.02,-0.005,-0.003,0.005,0.02,0.11,0.09,0.07,0.05,-0.05,-0.08,-0.1,-0.13,-0.15,-0.2,-0.22],[0,0,0,0,0,0.1,0.05,-0.05,-0.18],[-0.22,-0.07,0,0.06,0.22]],
 [[0,0,0,0,0],[-0.2,-0.07,-0.01,0.06,0.24,0.26,-0.28],[-0.22,-0.07,0,0.09,0.3],[-0.25,-0.09,-0.02,0.04,0.22],[-0.25,-0.07,0,0.06,0.22,0.3,0.27],[-0.25,-0.08,0.01,0.09,0.27],[-0.2,-0.06,0,0.06,0.25,0.3],[-0.02,-0.005,0,0.005,0.02,0.12,0.1,0.08,0.05,-0.05,-0.08,-0.1,-0.12,-0.15,-0.2],[-0.02,-0.005,0,0.005,0.02,0.21,0.18,0.15,0.12,0.1,0.08,0.05,-0.05,-0.08,-0.1,-0.12,-0.15,-0.2],[0,0,0,0,0,0.16,-0.15],[-0.22,-0.07,0,0.06,0.22,0.3,-0.25,-0.27]],
 [[-0.25,0.03,0.17,0.27,0.4],[-0.15,0.04,0.09,0.14,0.28],[0,0.14,0.2,0.27,0.4,-0.1,-0.12],[-0.1,0.04,0.12,0.2,0.35,-0.2,-0.23],[0,0.15,0.21,0.28,0.4,-0.13],[-0.05,0.08,0.14,0.22,0.35],[0,0.15,0.21,0.29,0.4,-0.14,-0.26],[-0.1,0.01,0.05,0.16,0.3],[-0.15,0,0.08,0.17,0.35],[-0.25,0.06,0.19,0.27,0.42],[-0.02,0.11,0.19,0.24,0.38,-0.1]],
 [[-0.05,0,0.02,0.19,0.35],[-0.28,-0.08,0.03,0.14,0.35],[-0.15,0.02,0.1,0.23,0.4],[-0.2,-0.05,0.07,0.16,0.35],[-0.15,0.02,0.13,0.24,0.4],[-0.2,-0.03,0.05,0.16,0.35],[-0.15,0.01,0.11,0.24,0.4],[-0.15,-0.01,0.01,0.11,0.25,0.41,0.37,-0.2,-0.25,-0.28,-0.3,-0.33],[-0.25,-0.06,0.04,0.16,0.35],[-0.2,0.03,0.07,0.23,0.42],[-0.18,-0.01,0.08,0.2,0.38]],
 [[-0.05,0,0.02,0.2,0.4],[-0.25,-0.08,0.04,0.15,0.35],[-0.15,0.01,0.05,0.19,0.38],[-0.25,-0.07,0.02,0.16,0.35],[-0.15,0.01,0.05,0.2,0.4],[-0.25,-0.07,0.02,0.16,0.38],[-0.15,0.02,0.07,0.2,0.4],[-0.2,-0.01,0.01,0.13,0.3,-0.25,-0.28],[-0.25,-0.04,0.005,0.13,0.3,-0.31],[-0.05,0.01,0.03,0.21,0.4],[-0.1,-0.01,0.04,0.18,0.38]],
 [[-0.03,0,0.17,0.26,0.4],[-0.07,0.02,0.1,0.16,0.3,-0.23],[0,0.13,0.2,0.26,0.4],[-0.1,0.04,0.14,0.2,0.35],[0,0.15,0.21,0.27,0.4],[-0.03,0.08,0.15,0.2,0.35,-0.12,-0.15,-0.18,-0.2],[0,0.15,0.21,0.27,0.4,-0.05],[-0.1,0,0.04,0.18,0.3],[-0.22,0,0.07,0.16,0.35],[-0.05,0.11,0.2,0.28,0.42],[0.02,0.13,0.19,0.24,0.38]],
 [[-0.02,-0.005,0,0.005,0.02,0.21,-0.05,-0.28],[-0.25,-0.05,0.01,0.06,0.2,0.25],[-0.22,-0.09,-0.02,0.04,0.18],[-0.2,-0.04,0.01,0.07,0.25],[-0.25,-0.06,-0.01,0.06,0.2,-0.28],[-0.22,-0.06,0,0.07,0.25],[-0.25,-0.06,0,0.06,0.2,-0.27],[-0.02,-0.005,0,0.005,0.02,0.2,0.17,0.14,0.11,0.08,0.05,-0.05,-0.08,-0.11,-0.14,-0.17,-0.2],[-0.03,-0.015,-0.005,0,0.02,0.22,0.19,0.16,0.13,0.1,0.07,0.05,-0.05,-0.08,-0.11,-0.14,-0.17,-0.2],[0,0,0,0,0,0.22,0.1,0.05,-0.28],[-0.12,-0.04,0,0.05,0.18,0.22,0.25,-0.15,-0.2]],
 [[-0.02,-0.005,0,0.005,0.02,0.11,0.08,0.05,-0.05,-0.1,-0.25],[-0.22,-0.04,0.03,0.06,0.25],[-0.2,-0.03,0.03,0.08,0.25],[-0.2,-0.06,0.01,0.07,0.22],[-0.2,-0.04,0.03,0.09,0.25],[-0.2,-0.05,0.02,0.07,0.22],[-0.2,-0.04,0.02,0.1,0.25],[-0.02,-0.005,0,0.005,0.02,0.18,0.15,0.12,0.09,0.06,0.04,-0.04,-0.07,-0.1,-0.13,-0.16,-0.2,-0.22],[-0.02,0,0.01,0.02,0.04,0.23,0.2,0.17,0.14,0.11,0.08,0.06,-0.04,-0.07,-0.1,-0.13,-0.16,-0.2],[-0.01,0,0.005,0.01,0.02,0.24,0.2,0.17,0.13,0.1,-0.08,-0.15],[-0.22,-0.04,0.02,0.1,0.25,-0.25]]
];
const panelData = {A:A_boxes,B:B_boxes,C:C_boxes,D:D_boxes,E:E_boxes,F:F_boxes,G:G_boxes,H:H_boxes};

// ---------- layout ----------
const FONT = '"Liberation Sans", Arial, sans-serif';
const facetX = [[[20,124],[125.4,229.3],[230.7,334]],[[386.7,490.7],[492,595.3],[596.7,700.7]]];
const ROW_H = 59, ROW_GAP = 1.7, STRIP_H = 7, STRIP_GAP = 0.7;
const panelLayout = {
  A:{col:0,top:6.7,letterX:1,letterY:4.5,titleX:3.5},
  B:{col:1,top:7.6,letterX:354.5,letterY:4.5,titleX:370},
  C:{col:0,top:220.7,letterX:1,letterY:207,titleX:3.7},
  D:{col:1,top:220.7,letterX:354.5,letterY:209,titleX:370},
  E:{col:0,top:434.7,letterX:1,letterY:416.5,titleX:3.7},
  F:{col:1,top:434.7,letterX:354.5,letterY:419,titleX:370},
  G:{col:0,top:648,letterX:1,letterY:632.5,titleX:3.5},
  H:{col:1,top:649.3,letterX:354.5,letterY:637,titleX:370}
};
const BORDER = '#9C9C9C';

function renderBox(params, api) {
  const x = api.value(0);
  const lo = api.coord([x, api.value(1)]), q1 = api.coord([x, api.value(2)]),
        med = api.coord([x, api.value(3)]), q3 = api.coord([x, api.value(4)]),
        hi = api.coord([x, api.value(5)]);
  const bw = api.size([1, 0])[0] * 0.75;
  const cx = lo[0];
  const flat = Math.abs(q1[1] - q3[1]) < 0.7;
  return {type:'group', children:[
    {type:'line', shape:{x1:cx,y1:hi[1],x2:cx,y2:q3[1]}, style:{stroke:BORDER,lineWidth:0.6}},
    {type:'line', shape:{x1:cx,y1:q1[1],x2:cx,y2:lo[1]}, style:{stroke:BORDER,lineWidth:0.6}},
    {type:'rect', shape:{x:cx-bw/2,y:q3[1],width:bw,height:q1[1]-q3[1]}, style:{fill:methodColors[x],stroke:BORDER,lineWidth:0.6}},
    {type:'line', shape:{x1:cx-bw/2,y1:med[1],x2:cx+bw/2,y2:med[1]}, style:{stroke:flat?BORDER:'#2E2E2E',lineWidth:flat?1:0.9}}
  ]};
}

const option = {animation:false, grid:[], xAxis:[], yAxis:[], series:[], graphic:{elements:[]}};
const GE = option.graphic.elements;
const mctx = document.createElement('canvas').getContext('2d');
const centers = Array.from({length:methods.length},(_,i)=>i);

panelNames.forEach(p => {
  const L = panelLayout[p], fx = facetX[L.col], data = panelData[p];
  const [ymin, ymax] = yLimits[p], br = yBreaks[p], dec = yDecimals[p];
  const step = br[1]-br[0], minors = [];
  for (let k=-6;k<br.length+6;k++){ const v=+(br[0]+(k+0.5)*step).toFixed(6); if(v>ymin&&v<ymax) minors.push(v); }
  for (let r=0;r<3;r++) for (let c=0;c<3;c++) {
    const top = L.top + r*(ROW_H+ROW_GAP);
    const gi = option.grid.length;
    option.grid.push({left:fx[c][0], top:top, width:fx[c][1]-fx[c][0], height:ROW_H, show:true, backgroundColor:'#F5F5F5', borderWidth:0});
    const xi = option.xAxis.length;
    option.xAxis.push({type:'category', gridIndex:gi, data:methods, boundaryGap:true,
      axisLine:{show:false}, axisLabel:{show:false}, splitLine:{show:false},
      axisTick:{show:r===2, alignWithLabel:true, length:2, lineStyle:{color:'#555',width:0.5}}});
    option.xAxis.push({type:'value', gridIndex:gi, min:-0.5, max:10.5, axisLine:{show:false}, axisLabel:{show:false},
      axisTick:{show:false, customValues:centers}, splitLine:{show:true, lineStyle:{color:'#E4E4E4',width:0.5}}});
    const yi = option.yAxis.length;
    option.yAxis.push({type:'value', gridIndex:gi, min:ymin, max:ymax, axisLine:{show:false},
      axisTick:{show:c===0, customValues:br, length:2, lineStyle:{color:'#555',width:0.5}},
      axisLabel:{show:c===0, customValues:br, formatter:v=>Number(v).toFixed(dec), fontSize:5.3, color:'#4D4D4D', margin:3, fontFamily:FONT},
      splitLine:{show:true, lineStyle:{color:'#DDDDDD',width:0.5}}});
    option.yAxis.push({type:'value', gridIndex:gi, min:ymin, max:ymax, axisLine:{show:false}, axisLabel:{show:false},
      axisTick:{show:false, customValues:minors}, splitLine:{show:true, lineStyle:{color:'#ECECEC',width:0.4}}});
    const boxes = data[r*3+c];
    option.series.push({type:'custom', xAxisIndex:xi, yAxisIndex:yi, renderItem:renderBox, clip:false, silent:true,
      encode:{x:0, y:[1,2,3,4,5]}, data: boxes.map((b,i)=>[i,b[0],b[1],b[2],b[3],b[4]]), z:2});
    const outs = [];
    boxes.forEach((b,i)=>{ for (let k=5;k<b.length;k++) outs.push([i,b[k]]); });
    if (outs.length) option.series.push({type:'scatter', xAxisIndex:xi, yAxisIndex:yi, data:outs, symbolSize:1.8, silent:true,
      itemStyle:{color:'#111'}, z:3});
    if (r===0) {
      GE.push({type:'rect', shape:{x:fx[c][0], y:top-STRIP_GAP-STRIP_H, width:fx[c][1]-fx[c][0], height:STRIP_H}, style:{fill:'#D6D6D6'}});
      GE.push({type:'text', style:{text:designs[c], x:(fx[c][0]+fx[c][1])/2, y:top-STRIP_GAP-STRIP_H/2, textAlign:'center', textVerticalAlign:'middle', fontSize:6, fontFamily:FONT, fill:'#1A1A1A'}});
    }
    if (c===2) {
      const sx = fx[2][1]+STRIP_GAP;
      GE.push({type:'rect', shape:{x:sx, y:top, width:STRIP_H, height:ROW_H}, style:{fill:'#D6D6D6'}});
      GE.push({type:'text', x:sx+STRIP_H/2, y:top+ROW_H/2, rotation:-Math.PI/2, style:{text:links[r], x:0, y:0, textAlign:'center', textVerticalAlign:'middle', fontSize:6, fontFamily:FONT, fill:'#1A1A1A'}});
    }
  }
  const rowsBottom = L.top + 3*ROW_H + 2*ROW_GAP;
  GE.push({type:'text', style:{text:p, x:L.letterX, y:L.letterY, textAlign:'left', textVerticalAlign:'middle', fontSize:15, fontWeight:'bold', fontFamily:FONT, fill:'#000'}});
  GE.push({type:'text', x:L.titleX, y:(L.top+rowsBottom)/2, rotation:Math.PI/2, style:{text:yTitles[p], x:0, y:0, textAlign:'center', textVerticalAlign:'middle', fontSize:7, fontFamily:FONT, fill:'#1A1A1A'}});
  const fs = 4.8; mctx.font = fs + 'px "Liberation Sans"';
  const keyW = 4.4, keyH = 3.8, tg = 1.3, ig = 4;
  const widths = methods.map(m=>mctx.measureText(m).width);
  const total = widths.reduce((a,w)=>a+keyW+tg+w,0) + ig*(methods.length-1);
  let lx = (fx[0][0]+fx[2][1])/2 + 1 - total/2;
  const ly = rowsBottom + 10.8;
  methods.forEach((m,i)=>{
    GE.push({type:'rect', shape:{x:lx, y:ly-keyH/2, width:keyW, height:keyH}, style:{fill:methodColors[i], stroke:'#A6A6A6', lineWidth:0.5}});
    GE.push({type:'text', style:{text:m, x:lx+keyW+tg, y:ly, textAlign:'left', textVerticalAlign:'middle', fontSize:fs, fontFamily:FONT, fill:'#333'}});
    lx += keyW+tg+widths[i]+ig;
  });
});

const chart = echarts.init(document.getElementById('c'), null, {renderer:'canvas'});
chart.setOption(option);
</script>
</body></html>
